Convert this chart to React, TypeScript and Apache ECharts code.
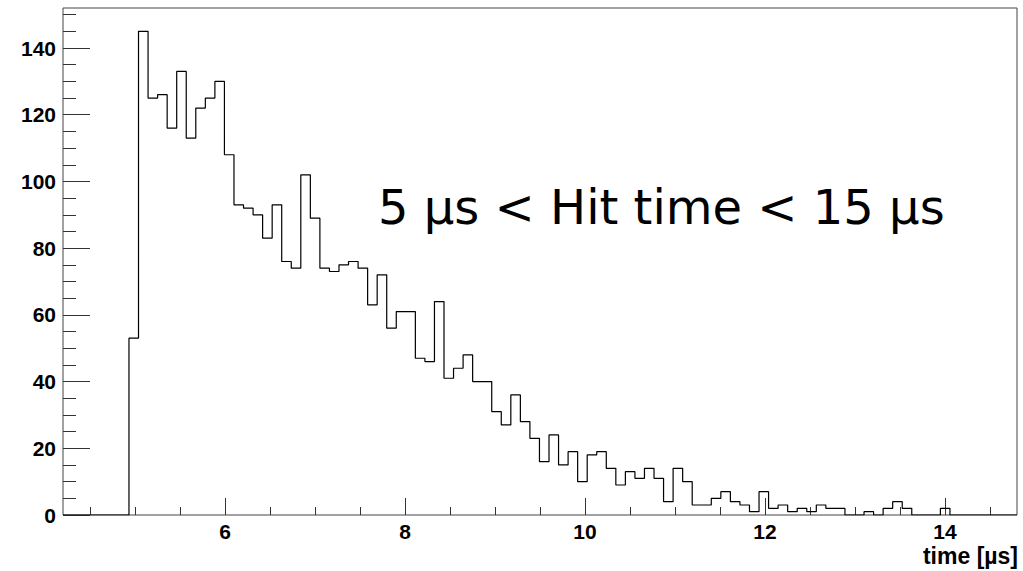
import React, { useEffect, useRef } from "react";
import * as echarts from "echarts";

// Histogram of hit times (counts per bin), bins start at BIN_START with width BIN_WIDTH
const COUNTS = [
  53, 145, 125, 126, 116, 133, 113, 122, 125, 130,
  108, 93, 92, 90, 83, 93, 76, 74, 102, 89,
  74, 73, 75, 76, 74, 63, 72, 56, 61, 61,
  47, 46, 64, 41, 44, 48, 40, 40, 31, 27,
  36, 28, 23, 16, 24, 15, 19, 10, 18, 19,
  14, 9, 13, 11, 14, 11, 4, 14, 10, 3,
  3, 5, 7, 4, 3, 1, 7, 2, 3, 1,
  2, 1, 3, 2, 2, 0, 0, 1, 0, 2,
  4, 2, 0, 0, 0, 2,
];
const BIN_START = 4.933;
const BIN_WIDTH = 0.10607;

const X_MIN = 4.2;
const X_MAX = 14.8;
const Y_MIN = 0;
const Y_MAX = 152;

const X_MAJOR = [6, 8, 10, 12, 14];
const X_MINOR = [4.5, 5, 5.5, 6.5, 7, 7.5, 8.5, 9, 9.5, 10.5, 11, 11.5, 12.5, 13, 13.5, 14.5];
const Y_MAJOR = [0, 20, 40, 60, 80, 100, 120, 140];
const Y_MINOR = [5, 10, 15, 25, 30, 35, 45, 50, 55, 65, 70, 75, 85, 90, 95, 105, 110, 115, 125, 130, 135, 145, 150];

const X_TITLE = "time [µs]";
const ANNOTATION = "5 µs < Hit time < 15 µs";

export default function App() {
  const ref = useRef<HTMLDivElement>(null);

  useEffect(() => {
    if (!ref.current) return;
    const chart = echarts.init(ref.current, null, { renderer: "svg" });

    const points: number[][] = [[X_MIN, 0]];
    COUNTS.forEach((c, i) => points.push([BIN_START + i * BIN_WIDTH, c]));
    points.push([BIN_START + COUNTS.length * BIN_WIDTH, 0]);
    points.push([X_MAX, 0]);

    const labelFont = {
      fontFamily: "Liberation Sans",
      fontWeight: "bold" as const,
      fontSize: 21,
      color: "#000",
    };
    const tickColor = "#333";

    chart.setOption({
      animation: false,
      backgroundColor: "#fff",
      grid: {
        left: 63,
        top: 8,
        width: 954,
        height: 507,
        show: true,
        borderColor: "#444",
        borderWidth: 1,
        backgroundColor: "transparent",
      },
      xAxis: [
        {
          type: "value",
          min: X_MIN,
          max: X_MAX,
          position: "bottom",
          axisLine: { show: false },
          splitLine: { show: false },
          axisTick: {
            show: true,
            inside: true,
            length: 17,
            customValues: X_MAJOR,
            lineStyle: { color: tickColor, width: 1 },
          },
          axisLabel: { ...labelFont, lineHeight: 16, margin: 8, customValues: X_MAJOR },
        },
        {
          type: "value",
          min: X_MIN,
          max: X_MAX,
          position: "bottom",
          axisLine: { show: false },
          splitLine: { show: false },
          axisTick: {
            show: true,
            inside: true,
            length: 8,
            customValues: X_MINOR,
            lineStyle: { color: tickColor, width: 1 },
          },
          axisLabel: { show: false },
        },
      ],
      yAxis: [
        {
          type: "value",
          min: Y_MIN,
          max: Y_MAX,
          position: "left",
          axisLine: { show: false },
          splitLine: { show: false },
          axisTick: {
            show: true,
            inside: true,
            length: 27,
            customValues: Y_MAJOR,
            lineStyle: { color: tickColor, width: 1 },
          },
          axisLabel: { ...labelFont, margin: 7, customValues: Y_MAJOR },
        },
        {
          type: "value",
          min: Y_MIN,
          max: Y_MAX,
          position: "left",
          axisLine: { show: false },
          splitLine: { show: false },
          axisTick: {
            show: true,
            inside: true,
            length: 13,
            customValues: Y_MINOR,
            lineStyle: { color: tickColor, width: 1 },
          },
          axisLabel: { show: false },
        },
      ],
      series: [
        {
          type: "line",
          xAxisIndex: 0,
          yAxisIndex: 0,
          step: "end",
          data: points,
          showSymbol: false,
          symbol: "none",
          lineStyle: { color: "#000", width: 1.2 },
        },
      ],
      graphic: [
        {
          type: "text",
          x: 378,
          y: 207,
          style: {
            text: ANNOTATION,
            font: '48px "DejaVu Sans"',
            fill: "#000",
            align: "left",
            verticalAlign: "middle",
          },
        },
        {
          type: "text",
          x: 1018,
          y: 556,
          style: {
            text: X_TITLE,
            font: 'bold 23px "Liberation Sans"',
            lineHeight: 18,
            fill: "#000",
            align: "right",
            verticalAlign: "middle",
          },
        },
      ],
    });

    return () => chart.dispose();
  }, []);

  return (
    <div
      ref={ref}
      style={{ position: "fixed", left: 0, top: 0, width: 1023, height: 571, background: "#fff" }}
    />
  );
}
